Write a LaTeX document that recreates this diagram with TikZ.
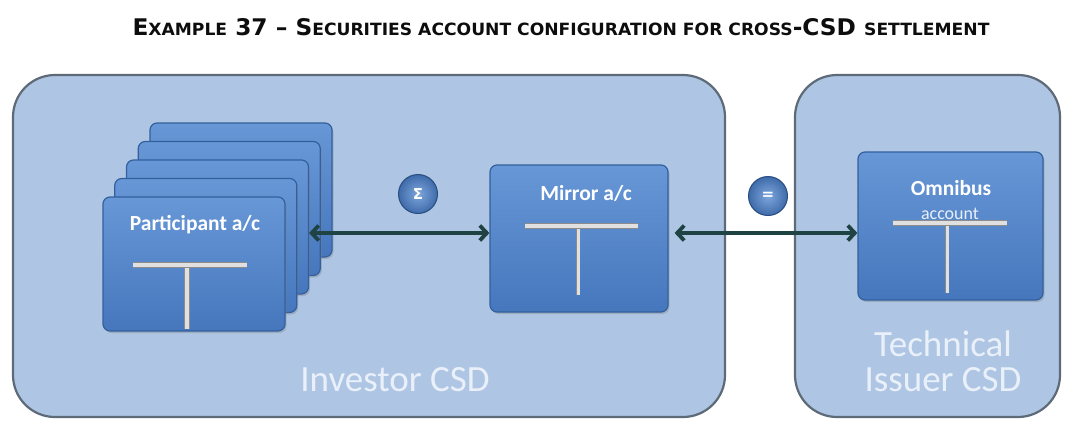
\documentclass[tikz,border=0pt]{standalone}
\usepackage{fontspec}
\setmainfont{Carlito}
\newfontfamily\headfont{DejaVu Sans}
\usetikzlibrary{arrows.meta}
\usetikzlibrary{shadows}

\definecolor{csdfill}{HTML}{AEC6E4}
\definecolor{csdline}{HTML}{5E6A78}
\definecolor{cardtop}{HTML}{6797D6}
\definecolor{cardbot}{HTML}{4677BD}
\definecolor{cardline}{HTML}{33609D}
\definecolor{linkcol}{HTML}{1F4242}
\definecolor{txtlight}{HTML}{EAF0F9}

\newcommand{\smc}[1]{{\fontsize{14}{14}\selectfont #1}}

\begin{document}
\begin{tikzpicture}[x=1pt,y=-1pt,
  >={Straight Barb[length=7pt,width=15pt]},
  csd/.style={draw=csdline,line width=2.2pt,fill=csdfill,rounded corners=42pt,minimum width=#1,minimum height=342pt,inner sep=0pt},
  card/.style={draw=cardline,line width=1.2pt,top color=cardtop,bottom color=cardbot,rounded corners=7pt,inner sep=0pt,
    drop shadow={shadow xshift=1.5pt,shadow yshift=-2pt,opacity=.35}},
  cardtext/.style={text=white,font=\bfseries\fontsize{21.5}{21.5}\selectfont,inner sep=0pt},
  csdtext/.style={text=txtlight,font=\fontsize{37}{35}\selectfont,align=center,inner sep=0pt},
  link/.style={<->,draw=linkcol,line width=3.8pt},
  op/.style={circle,draw=cardline!80!black,line width=1pt,inner color=cardtop!85!white,outer color=cardbot!90!black,
    minimum size=39pt,inner sep=0pt,text=white,font=\headfont\bfseries\fontsize{15}{15}\selectfont},
  tbar/.style={draw=black!45,line width=.6pt,double=black!12,double distance=#1}]

  \useasboundingbox (0,0) rectangle (1069,421);

  % title
  \node[inner sep=0pt,text=black!95] (head) at (561,27)
    {\resizebox{857pt}{17pt}{\headfont\bfseries\fontsize{19}{19}\selectfont E\smc{XAMPLE} 37 – S\smc{ECURITIES ACCOUNT CONFIGURATION FOR CROSS}-CSD \smc{SETTLEMENT}}};

  % the two CSDs
  \node[csd=712pt] (inv) at (369,246) {};
  \node[csd=265pt] (tech) at (927.5,246) {};
  \node[csdtext] (invlbl) at (395,380) {Investor CSD};
  \node[csdtext] (techlbl) at (943,361) {Technical\\Issuer CSD};

  % participant accounts, back to front
  \foreach \i in {4,3,2,1,0}
    \node[card,minimum width=182pt,minimum height=134pt] (part\i) at ({194+11.75*\i},{264-18.5*\i}) {};
  \node[cardtext] (partlbl) at (195,225) {Participant a/c};
  \draw[tbar=4pt] (187,265) -- (187,329);
  \draw[tbar=4pt] (133,265) -- (247,265);

  % mirror account
  \node[card,minimum width=178pt,minimum height=147pt] (mirror) at (579,238.5) {};
  \node[cardtext] (mirrorlbl) at (586,193) {Mirror a/c};
  \draw[tbar=3pt] (578,226) -- (578,295);
  \draw[tbar=4pt] (525,226) -- (638,226);

  % omnibus account
  \node[card,minimum width=185pt,minimum height=148pt] (omni) at (950.5,226) {};
  \node[cardtext] (omnilbl) at (951,188) {Omnibus};
  \node[cardtext,text=white!85!cardtop,font=\fontsize{18}{18}\selectfont] (acclbl) at (950,214) {account};
  \draw[tbar=3pt] (947,223) -- (947,293);
  \draw[tbar=4pt] (893,223) -- (1007,223);

  % links
  \coordinate (lvl) at (0,233);
  \draw[link] (part2.east |- lvl) -- (mirror.west |- lvl);
  \draw[link] ([xshift=6pt]mirror.east |- lvl) -- (omni.west |- lvl);

  \node[op] (sigma) at (418,194) {Σ};
  \node[op] (eq) at (768,196) {=};

\end{tikzpicture}
\end{document}
